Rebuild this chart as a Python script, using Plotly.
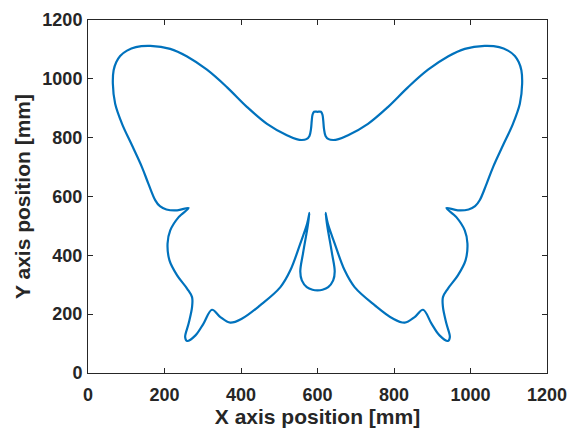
import plotly.graph_objects as go

# Left half traced from head top going round the left wings down to the body bottom
left_x = [600, 591, 587, 585, 583, 579, 571, 559, 545, 520, 468, 416, 363, 311, 259, 215, 163, 125, 102, 84,
          74, 67, 65, 71, 89, 115, 141, 158, 176, 188, 205, 233, 263, 237, 215, 208, 213, 233, 259, 272,
          272, 263, 254, 259, 281, 302, 324, 346, 372, 403, 450, 503, 529, 555, 573, 579, 574, 562, 555, 559,
          572, 587, 600]
left_y = [888, 888, 878, 858, 830, 806, 795, 792, 795, 808, 847, 904, 972, 1031, 1076, 1102, 1112, 1108, 1096, 1078,
          1057, 1029, 983, 915, 847, 774, 700, 643, 587, 567, 556, 553, 561, 530, 485, 440, 383, 332, 287, 258,
          224, 168, 122, 109, 128, 168, 215, 190, 171, 185, 230, 292, 349, 440, 508, 544, 496, 406, 345, 315,
          292, 283, 281]

# Right half traced from the body bottom going up round the right wings back to the head top
right_x = [613, 628, 641, 645, 638, 626, 621, 627, 645, 671, 697, 750, 797, 828, 854, 876, 898, 919, 941, 946,
           937, 928, 928, 941, 967, 987, 992, 985, 963, 937, 967, 995, 1012, 1024, 1042, 1059, 1085, 1111, 1129, 1135,
           1133, 1126, 1116, 1098, 1075, 1037, 985, 941, 889, 837, 784, 732, 680, 655, 641, 629, 621, 617, 615, 613,
           609, 600]
right_y = [283, 292, 315, 345, 406, 496, 544, 508, 440, 349, 292, 230, 185, 171, 190, 215, 168, 128, 109, 122,
           168, 224, 258, 287, 332, 383, 440, 485, 530, 561, 553, 556, 567, 587, 643, 700, 774, 847, 915, 983,
           1029, 1057, 1078, 1096, 1108, 1112, 1102, 1076, 1031, 972, 904, 847, 808, 795, 792, 795, 806, 830, 858, 878,
           888, 888]

tick_vals = [0, 200, 400, 600, 800, 1000, 1200]
tick_text = ["0", "200", "400", "600", "800", "1000", "1200"]

xs = left_x + right_x
ys = left_y + right_y

fig = go.Figure()
fig.add_trace(go.Scatter(x=xs, y=ys, mode="lines",
                         line=dict(color="#0072BD", width=2.2, shape="spline", smoothing=1.0),
                         showlegend=False, hoverinfo="skip"))

axcol = "#262626"
fam = "Liberation Sans, Arial, sans-serif"
common = dict(range=[0, 1200], tickvals=tick_vals, ticktext=tick_text,
              ticks="inside", ticklen=5, tickwidth=1, tickcolor=axcol,
              showline=True, linecolor=axcol, linewidth=1, mirror="ticks",
              showgrid=False, zeroline=False, automargin=False,
              tickfont=dict(family=fam, size=18, color=axcol, weight="bold"))

fig.update_layout(
    width=574, height=431,
    margin=dict(l=88, r=27, t=20, b=58),
    paper_bgcolor="white", plot_bgcolor="white",
    xaxis=dict(**common, ticklabelstandoff=5,
               title=dict(text="X axis position [mm]", standoff=3,
                          font=dict(family=fam, size=21, color=axcol, weight="bold"))),
    yaxis=dict(**common, ticklabelstandoff=1,
               title=dict(text="Y axis position [mm]", standoff=6,
                          font=dict(family=fam, size=21, color=axcol, weight="bold"))),
)

fig.write_html("out.html")
